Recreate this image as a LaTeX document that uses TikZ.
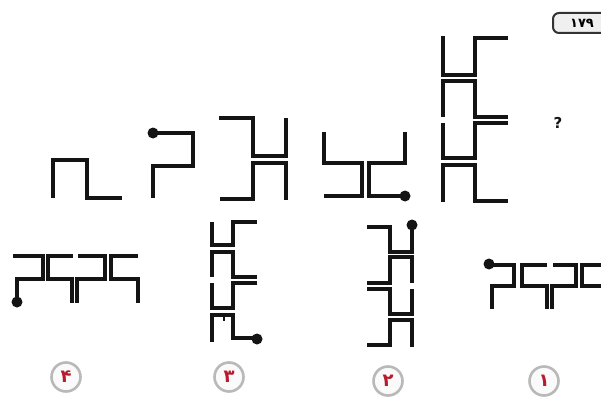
\documentclass[tikz,border=0pt]{standalone}
\usepackage{fontspec}
\newfontfamily\arabicfont[Script=Arabic]{DejaVu Sans}
\newfontfamily\qfont{DejaVu Sans}
\definecolor{ink}{HTML}{141414}
\definecolor{digred}{HTML}{B81A2E}
\begin{document}
\begin{tikzpicture}[x=1pt,y=-1pt,
  seg/.style={draw=ink, line width=3.4pt, line join=miter},
  blob/.style={fill=ink},
  optlabel/.style={circle, draw=gray!55, line width=2.6pt, fill=gray!4, minimum size=29pt, inner sep=0pt, text=digred, font=\arabicfont\bfseries\fontsize{18}{18}\selectfont},
  badge/.style={rectangle, rounded corners=6pt, draw=gray!40!black, line width=2pt, fill=gray!12, minimum width=58pt, minimum height=20pt, inner sep=0pt, anchor=west, font=\arabicfont\bfseries\fontsize{13}{13}\selectfont}
]
\useasboundingbox (0,0) rectangle (601,401);
\clip (0,0) rectangle (601,401);
\fill[white] (0,0) rectangle (601,401);

% ---- top row ----
% A
\draw[seg] (53,198) -- (53,160) -- (87,160) -- (87,198) -- (122,198);
% B
\draw[seg] (153,133) -- (193,133) -- (193,166) -- (153,166) -- (153,198);
\fill[blob] (153,133) circle (5.5);
% C
\draw[seg] (219,118) -- (253,118) -- (253,156) -- (286,156) -- (286,118);
\draw[seg] (286,200) -- (286,163) -- (253,163) -- (253,199) -- (220,199);
% D
\draw[seg] (324,132) -- (324,163) -- (362,163) -- (362,196) -- (324,196);
\draw[seg] (405,132) -- (405,163) -- (369,163) -- (369,196) -- (405,196);
\fill[blob] (405,196) circle (5.5);
% E
\draw[seg] (443,36) -- (443,75) -- (475,75) -- (475,38) -- (508,38);
\draw[seg] (443,117) -- (443,81) -- (475,81) -- (475,117) -- (508,117);
\draw[seg] (508,123) -- (475,123) -- (475,158) -- (443,158) -- (443,123);
\draw[seg] (443,202) -- (443,165) -- (475,165) -- (475,201) -- (508,201);
% question mark
\node[font=\qfont\bfseries\fontsize{15}{15}\selectfont, text=ink] (q) at (558,123) {?};
% page badge
\node[badge] (pg) at (552,23) {۱۷۹};

% ---- option 4 ----
\draw[seg] (13,256) -- (43,256) -- (43,279) -- (17,279) -- (17,302);
\fill[blob] (17,302) circle (5.5);
\draw[seg] (73,256) -- (48,256) -- (48,279) -- (72,279) -- (72,303);
\draw[seg] (77,303) -- (77,279) -- (105,279) -- (105,256) -- (78,256);
\draw[seg] (138,303) -- (138,279) -- (111,279) -- (111,256) -- (138,256);

% ---- option 3 ----
\draw[seg] (212,222) -- (212,245) -- (233,245) -- (233,222) -- (257,222);
\draw[seg] (212,277) -- (212,252) -- (233,252) -- (233,277) -- (257,277);
\draw[seg] (257,283) -- (233,283) -- (233,308) -- (212,308) -- (212,283);
\draw[seg] (212,342) -- (212,315) -- (233,315) -- (233,338) -- (257,338);
\draw[draw=ink, line width=2.2pt] (224,315) -- (224,321);
\fill[blob] (257,339) circle (5.5);

% ---- option 2 ----
\draw[seg] (367,227) -- (390,227) -- (390,252) -- (412,252) -- (412,225);
\fill[blob] (412,225) circle (5.5);
\draw[seg] (412,283) -- (412,257) -- (390,257) -- (390,283) -- (367,283);
\draw[seg] (367,289) -- (390,289) -- (390,314) -- (412,314) -- (412,289);
\draw[seg] (412,347) -- (412,320) -- (390,320) -- (390,345) -- (367,345);

% ---- option 1 ----
\draw[seg] (489,265) -- (514,265) -- (514,286) -- (492,286) -- (492,309);
\fill[blob] (489,264) circle (5.5);
\draw[seg] (547,265) -- (522,265) -- (522,286) -- (547,286) -- (547,309);
\draw[seg] (552,309) -- (552,286) -- (576,286) -- (576,265) -- (553,265);
\draw[seg] (610,265) -- (582,265) -- (582,286) -- (610,286);

% ---- option labels ----
\node[optlabel] (o4) at (66,377) {۴};
\node[optlabel] (o3) at (229,377) {۳};
\node[optlabel] (o2) at (388,381) {۲};
\node[optlabel] (o1) at (544,381) {۱};
\end{tikzpicture}
\end{document}
